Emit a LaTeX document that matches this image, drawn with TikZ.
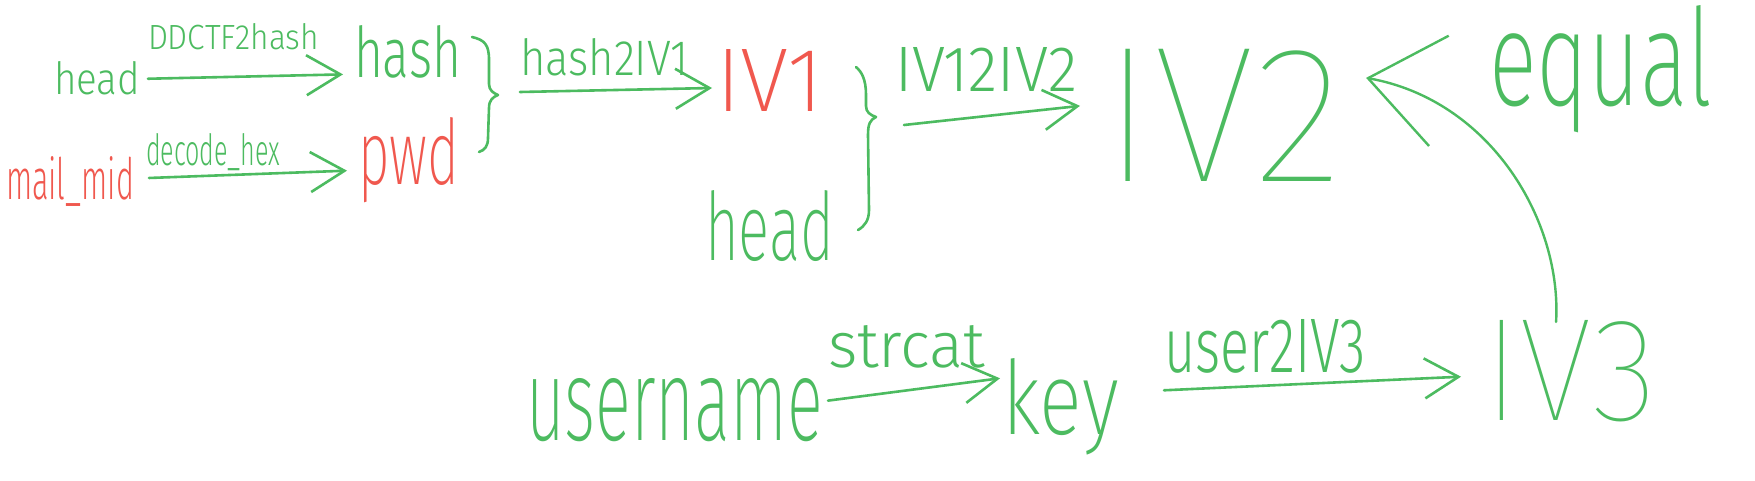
\documentclass[tikz,border=0pt]{standalone}
\usepackage{fontspec}
\setmainfont{Fira Sans}
\newfontfamily\flight{Fira Sans Light}
\newfontfamily\fxlight{Fira Sans ExtraLight}
\newfontfamily\fthin{Fira Sans Thin}
\usepackage{graphicx}
\usetikzlibrary{arrows.meta}
\definecolor{hwgreen}{RGB}{76,187,96}
\definecolor{hwred}{RGB}{240,88,78}
\newcommand{\hwtext}[4]{\resizebox{#1pt}{#2pt}{#3#4}}
\begin{document}
\begin{tikzpicture}[x=1pt,y=-1pt,
  lbl/.style={inner sep=0pt, outer sep=0pt, anchor=base west, text=hwgreen},
  redlbl/.style={lbl, text=hwred},
  arr/.style={draw=hwgreen, line width=2.6pt, line cap=round, line join=round,
    -{Straight Barb[length=34pt,width=40pt]}},
  bigarr/.style={draw=hwgreen, line width=2.4pt, line cap=round, line join=round,
    -{Straight Barb[length=72pt,width=112pt]}},
  bracepath/.style={draw=hwgreen, line width=2.6pt, line cap=round, line join=round}
]
\fill[white] (0,0) rectangle (1755,481);
\useasboundingbox (0,0) rectangle (1755,481);

% texts
\node[lbl] (head1) at (54,95) {\hwtext{86}{33}{\flight}{head}};
\node[lbl] (l1) at (148,50) {\hwtext{171}{26}{\flight}{DDCTF2hash}};
\node[lbl] (hash) at (354,78) {\hwtext{107}{52}{\flight}{hash}};
\node[redlbl] (mailmid) at (6,200) {\hwtext{128}{43}{\flight}{mail\_mid}};
\node[lbl] (l2) at (146,166) {\hwtext{134}{32}{\flight}{decode\_hex}};
\node[redlbl] (pwd) at (358,185) {\hwtext{101}{67}{\fxlight}{pwd}};
\node[lbl] (l3) at (520,76) {\hwtext{168}{37}{\flight}{hash2IV1}};
\node[redlbl] (IV1) at (716,112) {\hwtext{107}{62}{\fxlight}{IV1}};
\node[lbl] (head2) at (705,260) {\hwtext{129}{70}{\fxlight}{head}};
\node[lbl] (l4) at (895,92) {\hwtext{182}{44}{\flight}{IV12IV2}};
\node[lbl] (IV2) at (1102,182) {\hwtext{241}{132}{\fthin}{IV2}};
\node[lbl] (equal) at (1489,106) {\hwtext{223}{100}{\fxlight}{equal}};
\node[lbl] (user) at (526,440) {\hwtext{297}{62}{\fxlight}{username}};
\node[lbl] (l5) at (828,367) {\hwtext{157}{42}{\flight}{strcat}};
\node[lbl] (key) at (1002,434) {\hwtext{117}{76}{\fxlight}{key}};
\node[lbl] (l6) at (1164,372) {\hwtext{202}{53}{\flight}{user2IV3}};
\node[lbl] (IV3) at (1483,420) {\hwtext{174}{100}{\fthin}{IV3}};

% braces
\draw[bracepath] (472,37) .. controls (485,40) and (489,45) .. (489,60) -- (489,84)
  .. controls (489,90) and (493,93) .. (498,95)
  .. controls (493,97) and (489,100) .. (489,108) -- (488,138)
  .. controls (488,146) and (485,150) .. (479,152);
\coordinate (b1) at (498,95);
\draw[bracepath] (856,67) .. controls (862,72) and (866,80) .. (866,95) -- (866,106)
  .. controls (866,112) and (870,115) .. (876,117)
  .. controls (870,120) and (868,124) .. (868,135) -- (869,210)
  .. controls (869,220) and (865,226) .. (858,230);
\coordinate (b2) at (876,117);

% connectors
\draw[arr] ([shift={(8,0)}]head1.east) -- ([shift={(-11,22)}]hash.west);
\draw[arr] ([shift={(15,-4)}]mailmid.east) -- ([shift={(-11,10)}]pwd.west);
\draw[arr] ([shift={(22,-3)}]b1) -- ([shift={(-4,7)}]IV1.west);
\draw[arr] ([shift={(28,8)}]b2) -- ([shift={(-22,-10)}]IV2.west);
\draw[arr] ([shift={(5,-9)}]user.east) -- ([shift={(-2,-28)}]key.west);
\draw[arr] ([shift={(45,-16)}]key.east) -- ([shift={(-22,6)}]IV3.west);
\draw[bigarr] ([shift={(-14,2)}]IV3.north) .. controls (1562,220) and (1490,100) .. ([shift={(23,-38)}]IV2.east);
\end{tikzpicture}
\end{document}
